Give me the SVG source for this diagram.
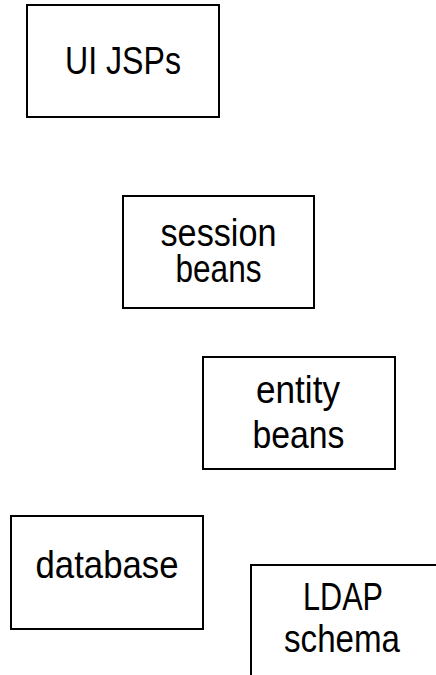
<svg xmlns="http://www.w3.org/2000/svg" width="436" height="675" viewBox="0 0 436 675">
  <style>
    .box { fill: #ffffff; stroke: #000000; stroke-width: 2; }
    .lbl { font-family: "Liberation Sans", Arial, sans-serif; font-size: 39px; fill: #000000; text-anchor: middle; }
  </style>
  <rect width="436" height="675" fill="#ffffff"/>
  <g id="connectors"></g>
  <g id="ui-jsps">
    <rect class="box" x="27" y="5" width="192" height="112"/>
    <text class="lbl" x="123" y="73.5" textLength="116" lengthAdjust="spacingAndGlyphs">UI JSPs</text>
  </g>
  <g id="session-beans">
    <rect class="box" x="123" y="196" width="191" height="112"/>
    <text class="lbl" x="218.5" y="246" textLength="116" lengthAdjust="spacingAndGlyphs">session</text>
    <text class="lbl" x="218.5" y="282" textLength="86" lengthAdjust="spacingAndGlyphs">beans</text>
  </g>
  <g id="entity-beans">
    <rect class="box" x="203" y="357" width="192" height="112"/>
    <text class="lbl" x="298" y="403" textLength="84" lengthAdjust="spacingAndGlyphs">entity</text>
    <text class="lbl" x="298.5" y="448" textLength="92" lengthAdjust="spacingAndGlyphs">beans</text>
  </g>
  <g id="database">
    <rect class="box" x="11" y="516" width="192" height="113"/>
    <text class="lbl" x="107" y="578" textLength="143" lengthAdjust="spacingAndGlyphs">database</text>
  </g>
  <g id="ldap-schema">
    <rect class="box" x="251" y="565" width="192" height="130"/>
    <text class="lbl" x="343" y="610" textLength="80" lengthAdjust="spacingAndGlyphs">LDAP</text>
    <text class="lbl" x="342" y="651.5" textLength="116" lengthAdjust="spacingAndGlyphs">schema</text>
  </g>
</svg>
